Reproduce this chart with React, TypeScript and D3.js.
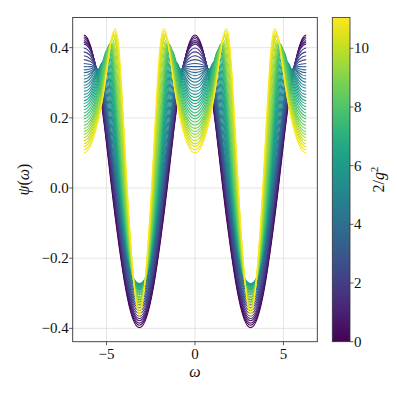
import * as d3 from 'd3'
import React from 'react'

const WIDTH = 397
const HEIGHT = 397
const PLOT = { left: 72.7, right: 317.3, top: 17.5, bottom: 341.7 }
const CBAR = { left: 332.3, right: 350 }
const FONT = '"Liberation Serif", "DejaVu Serif", serif'

// 2/g^2 for every curve
export const T_VALUES = [
  0, 0.283, 0.567, 0.85, 1.133, 1.417, 1.7, 1.983, 2.267, 2.55, 2.833, 3.117, 3.4, 3.683,
  3.967, 4.25, 4.533, 4.817, 5.1, 5.383, 5.667, 5.95, 6.233, 6.517, 6.8, 7.083, 7.367, 7.65,
  7.933, 8.217, 8.5, 8.783, 9.067, 9.35, 9.633, 9.917, 10.2, 10.483, 10.767, 11.05,
]
export const T_MAX = 11.05

// psi(omega) read at omega = k * pi / 8, k = 0..8 (curves are even and 2pi periodic)
export const PSI_ROWS = [
  [0.436, 0.403, 0.31, 0.172, 0.0, -0.155, -0.285, -0.37, -0.398],
  [0.431, 0.4, 0.313, 0.178, 0.008, -0.148, -0.279, -0.364, -0.391],
  [0.426, 0.398, 0.316, 0.183, 0.016, -0.141, -0.273, -0.358, -0.385],
  [0.42, 0.395, 0.319, 0.189, 0.024, -0.134, -0.267, -0.352, -0.378],
  [0.415, 0.393, 0.322, 0.194, 0.032, -0.127, -0.261, -0.346, -0.372],
  [0.41, 0.39, 0.325, 0.2, 0.04, -0.12, -0.255, -0.34, -0.365],
  [0.399, 0.382, 0.326, 0.207, 0.05, -0.11, -0.247, -0.333, -0.357],
  [0.388, 0.375, 0.327, 0.214, 0.06, -0.1, -0.239, -0.326, -0.349],
  [0.377, 0.367, 0.328, 0.221, 0.07, -0.09, -0.231, -0.319, -0.341],
  [0.366, 0.36, 0.329, 0.228, 0.08, -0.08, -0.223, -0.312, -0.333],
  [0.355, 0.352, 0.33, 0.235, 0.09, -0.07, -0.215, -0.305, -0.325],
  [0.346, 0.346, 0.332, 0.244, 0.098, -0.06, -0.206, -0.297, -0.318],
  [0.337, 0.34, 0.334, 0.253, 0.106, -0.05, -0.197, -0.289, -0.311],
  [0.329, 0.334, 0.336, 0.262, 0.114, -0.04, -0.188, -0.281, -0.304],
  [0.32, 0.328, 0.338, 0.271, 0.122, -0.03, -0.179, -0.273, -0.297],
  [0.311, 0.322, 0.34, 0.28, 0.13, -0.02, -0.17, -0.265, -0.29],
  [0.302, 0.314, 0.338, 0.295, 0.152, -0.01, -0.167, -0.262, -0.286],
  [0.293, 0.305, 0.336, 0.31, 0.174, 0.0, -0.164, -0.259, -0.283],
  [0.285, 0.297, 0.334, 0.325, 0.196, 0.01, -0.161, -0.256, -0.279],
  [0.276, 0.288, 0.332, 0.34, 0.218, 0.02, -0.158, -0.253, -0.276],
  [0.267, 0.28, 0.33, 0.355, 0.24, 0.03, -0.155, -0.25, -0.272],
  [0.258, 0.272, 0.322, 0.36, 0.261, 0.043, -0.148, -0.25, -0.274],
  [0.249, 0.264, 0.314, 0.365, 0.282, 0.056, -0.141, -0.25, -0.276],
  [0.241, 0.256, 0.306, 0.37, 0.303, 0.069, -0.134, -0.25, -0.279],
  [0.232, 0.248, 0.298, 0.375, 0.324, 0.082, -0.127, -0.25, -0.281],
  [0.223, 0.24, 0.29, 0.38, 0.345, 0.095, -0.12, -0.25, -0.283],
  [0.214, 0.231, 0.281, 0.375, 0.362, 0.114, -0.11, -0.25, -0.287],
  [0.205, 0.222, 0.272, 0.37, 0.377, 0.133, -0.1, -0.25, -0.292],
  [0.197, 0.213, 0.263, 0.362, 0.39, 0.152, -0.09, -0.25, -0.296],
  [0.188, 0.204, 0.254, 0.351, 0.4, 0.171, -0.08, -0.25, -0.301],
  [0.179, 0.195, 0.245, 0.34, 0.405, 0.19, -0.07, -0.25, -0.305],
  [0.17, 0.187, 0.238, 0.332, 0.409, 0.22, -0.052, -0.247, -0.311],
  [0.161, 0.179, 0.231, 0.324, 0.413, 0.25, -0.034, -0.244, -0.317],
  [0.153, 0.171, 0.224, 0.316, 0.417, 0.28, -0.016, -0.241, -0.323],
  [0.144, 0.163, 0.217, 0.308, 0.421, 0.31, 0.002, -0.238, -0.329],
  [0.135, 0.155, 0.21, 0.3, 0.425, 0.34, 0.02, -0.235, -0.335],
  [0.126, 0.147, 0.204, 0.298, 0.425, 0.358, 0.038, -0.231, -0.343],
  [0.118, 0.139, 0.198, 0.295, 0.425, 0.375, 0.055, -0.228, -0.35],
  [0.109, 0.13, 0.191, 0.293, 0.425, 0.393, 0.073, -0.224, -0.358],
  [0.1, 0.122, 0.185, 0.29, 0.425, 0.41, 0.09, -0.22, -0.365],
]

export const X_TICKS = [-5, 0, 5]
export const Y_TICKS = [-0.4, -0.2, 0, 0.2, 0.4]
export const C_TICKS = [0, 2, 4, 6, 8, 10]

const X_DOMAIN = [-2.2 * Math.PI, 2.2 * Math.PI]
const Y_DOMAIN = [-0.438, 0.486]

const fmt = (v, digits) => {
  const s = Math.abs(v).toFixed(digits)
  return v < 0 ? `\u2212${s}` : s
}

// unfold one half-period row onto omega in [-2pi - 2h, 2pi + 2h]
const getCurvePoints = row => {
  const pts = []
  for (let j = -18; j <= 18; j++) {
    const m = ((j % 16) + 16) % 16
    const k = m <= 8 ? m : 16 - m
    pts.push([(j * Math.PI) / 8, row[k]])
  }
  return pts
}

const App = () => {
  const x = d3.scaleLinear().domain(X_DOMAIN).range([PLOT.left, PLOT.right])
  const y = d3.scaleLinear().domain(Y_DOMAIN).range([PLOT.bottom, PLOT.top])
  const c = d3.scaleLinear().domain([0, T_MAX]).range([PLOT.bottom, PLOT.top])
  const color = t => d3.interpolateViridis(t / T_MAX)

  const line = d3
    .line()
    .x(d => x(d[0]))
    .y(d => y(d[1]))
    .curve(d3.curveNatural)

  const gradStops = d3.range(0, 1.0001, 0.05)

  return (
    <svg
      width={WIDTH}
      height={HEIGHT}
      style={{ position: 'absolute', left: 0, top: 0, background: '#fff' }}
      fontFamily={FONT}
    >
      <defs>
        <clipPath id="curve-clip">
          <rect
            x={x(-2 * Math.PI)}
            y={PLOT.top}
            width={x(2 * Math.PI) - x(-2 * Math.PI)}
            height={PLOT.bottom - PLOT.top}
          />
        </clipPath>
        <linearGradient id="viridis" x1="0" y1="1" x2="0" y2="0">
          {gradStops.map(s => (
            <stop key={s} offset={s} stopColor={d3.interpolateViridis(s)} />
          ))}
        </linearGradient>
      </defs>

      {/* grid */}
      <g stroke="#dedede" strokeWidth={0.8}>
        {X_TICKS.map(v => (
          <line key={v} x1={x(v)} x2={x(v)} y1={PLOT.top} y2={PLOT.bottom} />
        ))}
        {Y_TICKS.map(v => (
          <line key={v} x1={PLOT.left} x2={PLOT.right} y1={y(v)} y2={y(v)} />
        ))}
      </g>

      {/* curves */}
      <g clipPath="url(#curve-clip)" fill="none" strokeWidth={1.1}>
        {PSI_ROWS.map((row, i) => (
          <path key={i} d={line(getCurvePoints(row))} stroke={color(T_VALUES[i])} />
        ))}
      </g>

      {/* frame */}
      <rect
        x={PLOT.left}
        y={PLOT.top}
        width={PLOT.right - PLOT.left}
        height={PLOT.bottom - PLOT.top}
        fill="none"
        stroke="#333"
        strokeWidth={0.9}
      />

      {/* x axis */}
      <g fontSize={15} fill="#111" textAnchor="middle">
        {X_TICKS.map(v => (
          <g key={v}>
            <line x1={x(v)} x2={x(v)} y1={PLOT.bottom} y2={PLOT.bottom + 3.5} stroke="#333" strokeWidth={0.8} />
            <text x={x(v)} y={PLOT.bottom + 17}>
              {fmt(v, 0)}
            </text>
          </g>
        ))}
        <text x={x(0)} y={377} fontStyle="italic" fontSize={16}>
          ω
        </text>
      </g>

      {/* y axis */}
      <g fontSize={15} fill="#111" textAnchor="end">
        {Y_TICKS.map(v => (
          <g key={v}>
            <line x1={PLOT.left - 3.5} x2={PLOT.left} y1={y(v)} y2={y(v)} stroke="#333" strokeWidth={0.8} />
            <text x={PLOT.left - 4} y={y(v) + 5}>
              {fmt(v, 1)}
            </text>
          </g>
        ))}
        <text
          transform={`translate(29, ${(PLOT.top + PLOT.bottom) / 2}) rotate(-90)`}
          textAnchor="middle"
          fontSize={16}
        >
          <tspan fontStyle="italic">ψ</tspan>(<tspan fontStyle="italic">ω</tspan>)
        </text>
      </g>

      {/* colorbar */}
      <rect
        x={CBAR.left}
        y={PLOT.top}
        width={CBAR.right - CBAR.left}
        height={PLOT.bottom - PLOT.top}
        fill="url(#viridis)"
        stroke="#333"
        strokeWidth={0.8}
      />
      <g fontSize={15} fill="#111">
        {C_TICKS.map(v => (
          <g key={v}>
            <line x1={CBAR.right} x2={CBAR.right + 3.5} y1={c(v)} y2={c(v)} stroke="#333" strokeWidth={0.8} />
            <text x={CBAR.right + 4} y={c(v) + 5}>
              {v}
            </text>
          </g>
        ))}
        <text
          transform={`translate(384, ${(PLOT.top + PLOT.bottom) / 2}) rotate(-90)`}
          textAnchor="middle"
          fontSize={16}
        >
          2/<tspan fontStyle="italic">g</tspan>
          <tspan fontSize={11} dy={-6}>
            2
          </tspan>
        </text>
      </g>
    </svg>
  )
}

export default App
